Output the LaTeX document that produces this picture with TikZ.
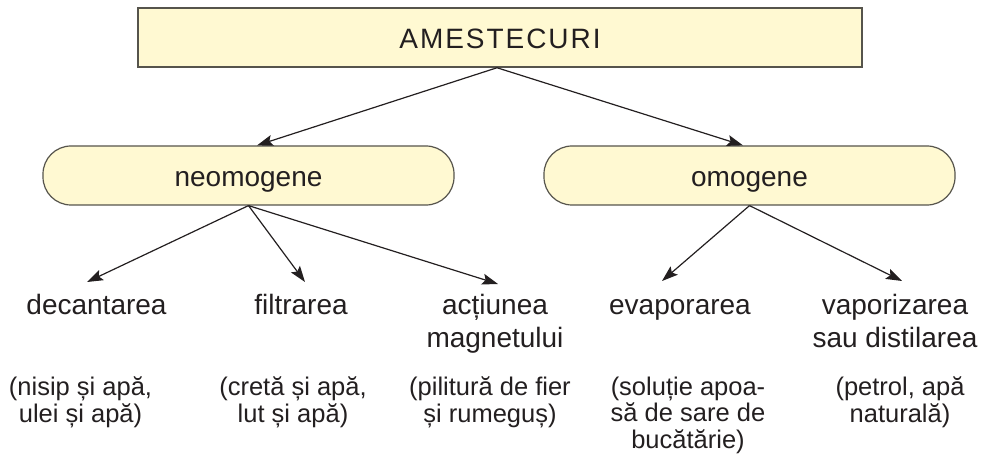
\documentclass[tikz,border=0pt]{standalone}
\usepackage{fontspec}
\setmainfont{Liberation Sans}
\usetikzlibrary{arrows.meta}
\definecolor{boxfill}{HTML}{FFF9D2}
\definecolor{boxdraw}{HTML}{56544C}
\definecolor{ink}{HTML}{231F20}
\begin{document}
\begin{tikzpicture}[x=1pt,y=-1pt,
  box/.style={draw=boxdraw, line width=1.5pt, fill=boxfill, inner sep=0pt, text=ink,
    font=\fontsize{28}{33}\selectfont, text height=23pt, text depth=0pt},
  topbox/.style={box, minimum width=724pt, minimum height=59pt},
  pill/.style={box, rounded corners=28pt, minimum width=411pt, minimum height=59pt, line width=1.2pt},
  method/.style={align=center, anchor=base, inner sep=0pt, text=ink, font=\fontsize{28}{33}\selectfont},
  example/.style={align=center, anchor=base, inner sep=0pt, text=ink, font=\fontsize{25.5}{26.5}\selectfont},
  arr/.style={-{Stealth[length=16pt,width=11pt,inset=3pt]}, line width=1.2pt, draw=ink}]
\useasboundingbox (0,0) rectangle (990,457);
\node[topbox] (top) at (500,37.5) {\addfontfeature{LetterSpace=7}AMESTECURI};
\node[pill] (neo) at (248.5,175.5) {neomogene};
\node[pill] (omo) at (749.5,175.5) {omogene};
% multi-line nodes: base anchor is the baseline of the last line
\node[method] (dec) at (96.5,314) {decantarea};
\node[method] (fil) at (301,314) {filtrarea};
\node[method] (mag) at (495,347) {acțiunea\\magnetului};
\node[method] (eva) at (680,314) {evaporarea};
\node[method] (vap) at (895,347) {vaporizarea\\sau distilarea};
\node[example] (exdec) at (80.5,422) {(nisip și apă,\\ulei și apă)};
\node[example] (exfil) at (293,422) {(cretă și apă,\\lut și apă)};
\node[example] (exmag) at (490,422) {(pilitură de fier\\și rumeguș)};
\node[example] (exeva) at (688,448) {(soluție apoa-\\să de sare de\\bucătărie)};
\node[example] (exvap) at (900,422) {(petrol, apă\\naturală)};
\coordinate (tdec) at (87,282);
\coordinate (tfil) at (305,282);
\coordinate (tmag) at (498,284);
\coordinate (teva) at (662,281);
\coordinate (tvap) at (902,281);
\draw[arr] ([xshift=-3pt]top.south) -- ([xshift=8.5pt]neo.north);
\draw[arr] ([xshift=-3pt]top.south) -- ([xshift=-6.5pt]omo.north);
\draw[arr] (neo.south) -- (tdec);
\draw[arr] (neo.south) -- (tfil);
\draw[arr] (neo.south) -- (tmag);
\draw[arr] (omo.south) -- (teva);
\draw[arr] (omo.south) -- (tvap);
\end{tikzpicture}
\end{document}
